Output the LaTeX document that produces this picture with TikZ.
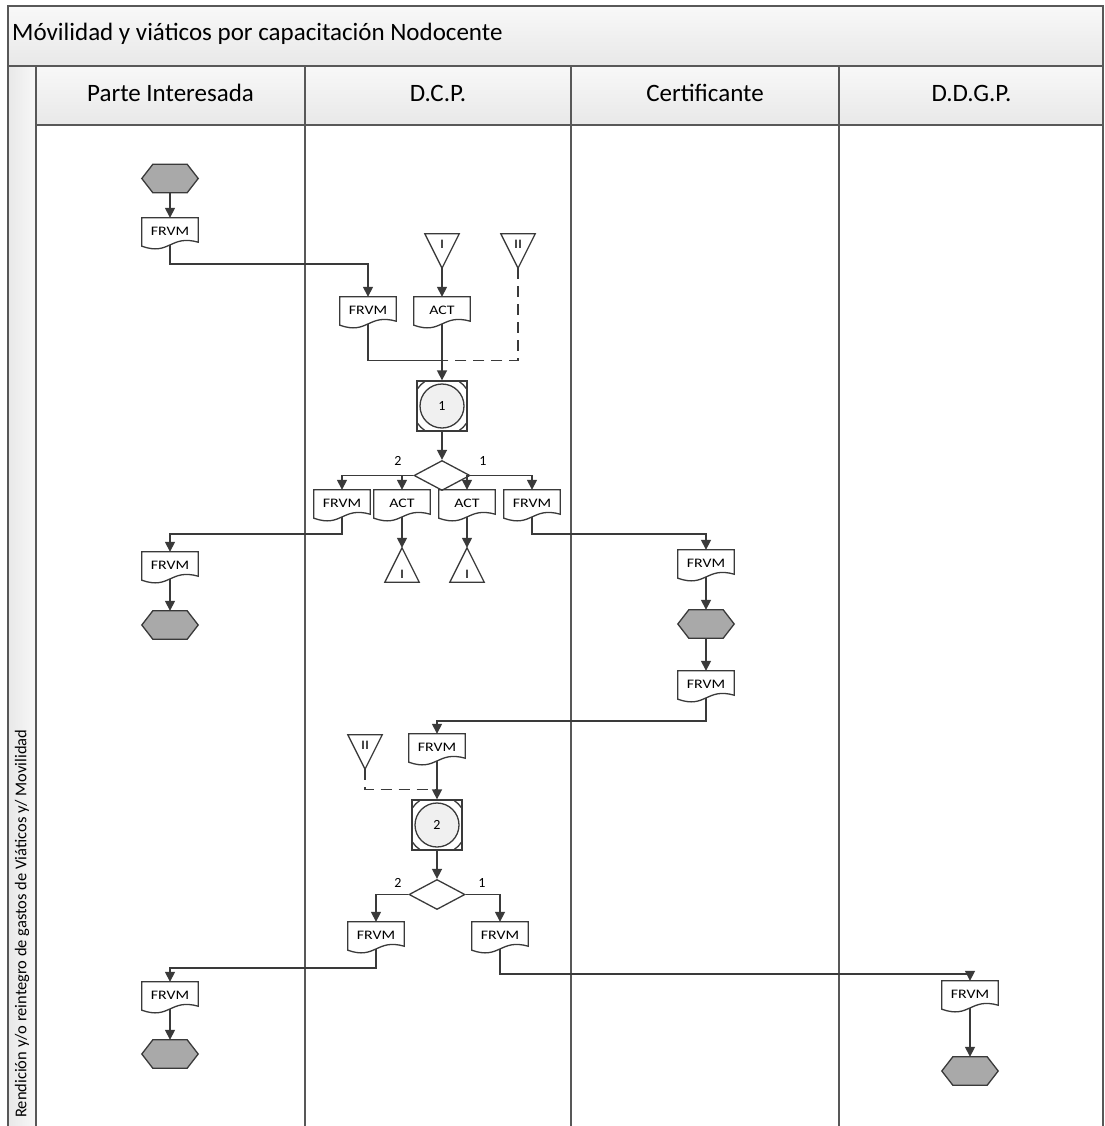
\documentclass[tikz,border=0pt]{standalone}
\usepackage{fontspec}
\setmainfont{Carlito}
\newfontfamily\docfont[FakeStretch=1.22]{Carlito}
\usetikzlibrary{shapes.geometric,arrows.meta}

\definecolor{linecol}{HTML}{3A3A3A}
\definecolor{hexfill}{HTML}{A9A9A9}
\definecolor{bandtop}{HTML}{F8F8F8}
\definecolor{bandbot}{HTML}{E8E8E8}

% document with wavy bottom
\newcommand{\docnode}[3]{%
  \node[doc] (#1) at (#2) {#3};
  \draw[shapeline] (#1.north west) -- (#1.north east) -- ([yshift=3pt]#1.south east)
    .. controls ([xshift=-28pt,yshift=11pt]#1.south east) and ([xshift=28pt,yshift=-11pt]#1.south west)
    .. ([yshift=-1pt]#1.south west) -- cycle;
}
% terminator
\newcommand{\hexnode}[2]{%
  \node[hexbox] (#1) at (#2) {};
  \draw[shapeline, fill=hexfill] (#1.west) -- ([xshift=11pt]#1.north west) -- ([xshift=-11pt]#1.north east)
    -- (#1.east) -- ([xshift=-11pt]#1.south east) -- ([xshift=11pt]#1.south west) -- cycle;
}
% archive triangles
\newcommand{\tridown}[3]{%
  \node[tribox, text height=8pt, text depth=14pt] (#1) at (#2) {#3};
  \draw[shapeline] (#1.north west) -- (#1.north east) -- (#1.south) -- cycle;
}
\newcommand{\triup}[3]{%
  \node[tribox, text height=26pt, text depth=0pt] (#1) at (#2) {#3};
  \draw[shapeline] (#1.south west) -- (#1.south east) -- (#1.north) -- cycle;
}

\begin{document}
\begin{tikzpicture}[x=1pt, y=-1pt,
    flowarrow/.style={draw=linecol, line width=1.6pt, -{Triangle[length=10pt,width=10pt]}},
    linkline/.style={draw=linecol, line width=1.6pt},
    shapeline/.style={draw=linecol, line width=1.3pt},
    laneline/.style={draw=linecol!85, line width=1.6pt},
    doc/.style={minimum width=56pt, minimum height=27pt, inner sep=0pt, font=\docfont\fontsize{13}{13}\selectfont},
    hexbox/.style={minimum width=56pt, minimum height=28pt, inner sep=0pt},
    tribox/.style={minimum width=34pt, minimum height=34pt, inner sep=0pt, font=\docfont\fontsize{13}{13}\selectfont},
    procbox/.style={draw=linecol, line width=1.3pt, fill=white, minimum size=50pt, inner sep=0pt,
      path picture={\draw[shapeline] (path picture bounding box.center) circle (30pt);}},
    proccircle/.style={circle, draw=linecol, line width=1.3pt, fill=gray!12, minimum size=44pt, inner sep=0pt,
      font=\fontsize{14}{14}\selectfont},
    decbox/.style={diamond, draw=linecol, line width=1.3pt, fill=white, minimum width=56pt, minimum height=30pt, inner sep=0pt},
    branchlbl/.style={font=\fontsize{14}{14}\selectfont, inner sep=0pt},
    lanehead/.style={font=\fontsize{25}{25}\selectfont, inner sep=0pt}
  ]
  \useasboundingbox (0,0) rectangle (1104,1126);

  % pool frame and lanes
  \shade[top color=bandtop, bottom color=bandbot] (8,6) rectangle (1103,66);
  \shade[top color=bandtop, bottom color=bandbot] (36,66) rectangle (1103,125);
  \shade[left color=bandbot, right color=bandtop] (8,66) rectangle (36,1130);
  \draw[laneline] (8,1130) -- (8,6) -- (1103,6) -- (1103,1130);
  \draw[laneline] (8,66) -- (1103,66);
  \draw[laneline] (36,125) -- (1103,125);
  \draw[laneline] (36,66) -- (36,1130);
  \foreach \lx in {305,571,839}
    \draw[laneline] (\lx,66) -- (\lx,1130);

  \node[lanehead, anchor=west] (title) at (12,34) {Móvilidad y viáticos por capacitación Nodocente};
  \node[lanehead] (laneA) at (170.5,93) {Parte Interesada};
  \node[lanehead] (laneB) at (438,93) {D.C.P.};
  \node[lanehead] (laneC) at (705,93) {Certificante};
  \node[lanehead] (laneD) at (971.5,93) {D.D.G.P.};
  \node[font=\fontsize{16.5}{16.5}\selectfont, inner sep=0pt, rotate=90, anchor=west] (poolname) at (22,1118)
    {Rendición y/o reintegro de gastos de Viáticos y/ Movilidad};

  % first stage: request
  \hexnode{hexA}{170,178.5}
  \docnode{frvmA}{170,231.5}{FRVM}
  \tridown{triI}{442,251}{I}
  \tridown{triII}{518,251}{II}
  \docnode{frvmB}{368,310.5}{FRVM}
  \docnode{actA}{442,310.5}{ACT}
  \coordinate (mergeA) at (442,360.5);
  \node[procbox] (boxA) at (442,406) {};
  \node[proccircle] (circA) at (boxA) {1};
  \node[decbox] (decA) at (442,475.5) {};
  \node[branchlbl] (lblA2) at (398,461) {2};
  \node[branchlbl] (lblA1) at (483,461) {1};

  \draw[flowarrow] (hexA.south) -- (frvmA.north);
  \draw[flowarrow] (frvmA.south) -- ++(0,18.5) -| (frvmB.north);
  \draw[flowarrow] (triI.south) -- (actA.north);
  \draw[linkline] (frvmB.south) |- (mergeA);
  \draw[linkline, dashed, dash pattern=on 11pt off 7pt] (triII.south) |- (mergeA);
  \draw[flowarrow] (actA.south) -- (boxA.north);
  \draw[flowarrow] (boxA.south) -- (decA.north);

  % branches of decision 1
  \docnode{frvmC}{342,503.5}{FRVM}
  \docnode{actB}{402,503.5}{ACT}
  \docnode{actC}{467,503.5}{ACT}
  \docnode{frvmD}{532,503.5}{FRVM}
  \triup{triA}{402,565}{I}
  \triup{triB}{467,565}{I}
  \docnode{frvmE}{170,565.5}{FRVM}
  \hexnode{hexB}{170,625}
  \docnode{frvmF}{706,563.5}{FRVM}
  \hexnode{hexC}{706,624}
  \docnode{frvmG}{706,684.5}{FRVM}

  \draw[flowarrow] (decA.west) -| (frvmC.north);
  \draw[flowarrow] (decA.west) -| (actB.north);
  \draw[flowarrow] (decA.east) -| (actC.north);
  \draw[flowarrow] (decA.east) -| (frvmD.north);
  \draw[flowarrow] (actB.south) -- (triA.north);
  \draw[flowarrow] (actC.south) -- (triB.north);
  \draw[flowarrow] (frvmC.south) -- ++(0,16.5) -| (frvmE.north);
  \draw[flowarrow] (frvmE.south) -- (hexB.north);
  \draw[flowarrow] (frvmD.south) -- ++(0,16.5) -| (frvmF.north);
  \draw[flowarrow] (frvmF.south) -- (hexC.north);
  \draw[flowarrow] (hexC.south) -- (frvmG.north);

  % second stage: settlement
  \docnode{frvmH}{437,747.5}{FRVM}
  \tridown{triIII}{365,752}{II}
  \coordinate (mergeB) at (437,789.5);
  \node[procbox] (boxB) at (437,825) {};
  \node[proccircle] (circB) at (boxB) {2};
  \node[decbox] (decB) at (437,894.5) {};
  \node[branchlbl] (lblB2) at (398,883) {2};
  \node[branchlbl] (lblB1) at (482,883) {1};
  \docnode{frvmI}{376,935.5}{FRVM}
  \docnode{frvmJ}{500,935.5}{FRVM}
  \docnode{frvmK}{170,995.5}{FRVM}
  \hexnode{hexD}{170,1054}
  \docnode{frvmL}{970,994.5}{FRVM}
  \hexnode{hexE}{970,1071}

  \draw[flowarrow] (frvmG.south) -- ++(0,22.5) -| (frvmH.north);
  \draw[flowarrow] (frvmH.south) -- (boxB.north);
  \draw[linkline, dashed, dash pattern=on 11pt off 7pt] (triIII.south) |- (mergeB);
  \draw[flowarrow] (boxB.south) -- (decB.north);
  \draw[flowarrow] (decB.west) -| (frvmI.north);
  \draw[flowarrow] (decB.east) -| (frvmJ.north);
  \draw[flowarrow] (frvmI.south) -- ++(0,18.5) -| (frvmK.north);
  \draw[flowarrow] (frvmK.south) -- (hexD.north);
  \draw[flowarrow] (frvmJ.south) -- ++(0,24.5) -| (frvmL.north);
  \draw[flowarrow] (frvmL.south) -- (hexE.north);
\end{tikzpicture}
\end{document}
